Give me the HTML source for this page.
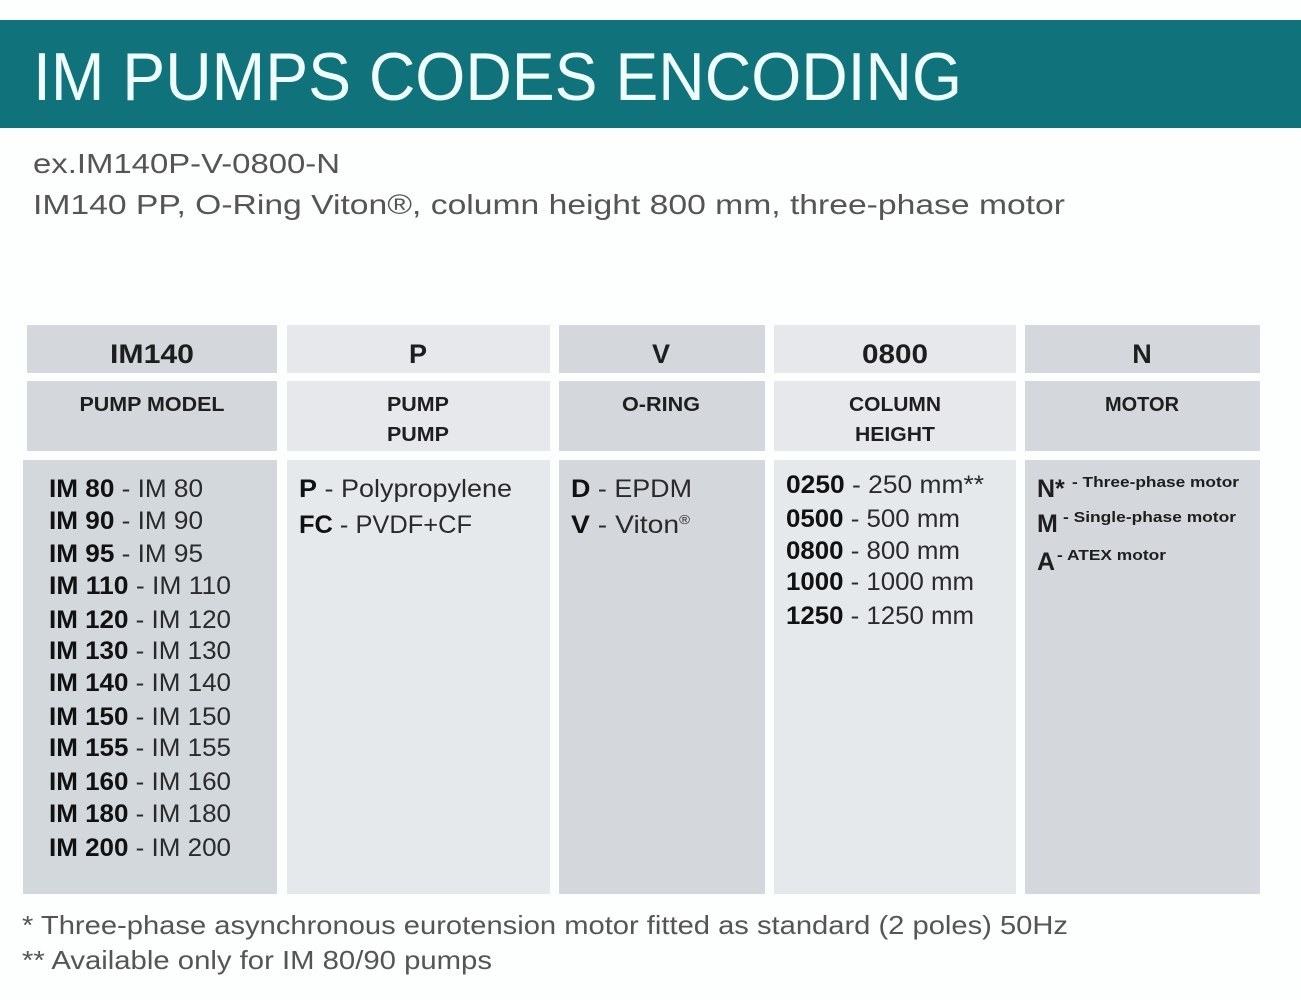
<!DOCTYPE html>
<html><head><meta charset="utf-8"><style>
html,body{margin:0;padding:0;background:#fff;}
svg{display:block;}
text{font-family:"Liberation Sans",sans-serif;}
</style></head><body>
<svg width="1301" height="1000" viewBox="0 0 1301 1000" xmlns="http://www.w3.org/2000/svg">
<rect width="1301" height="1000" fill="#fdfefe"/>
<rect x="0" y="20" width="1301" height="108" fill="#10737b"/>
<text x="33" y="100" font-size="68" fill="#eefcfc" textLength="929" lengthAdjust="spacingAndGlyphs">IM PUMPS CODES ENCODING</text>
<g fill="#555" font-size="28">
<text x="33" y="173" textLength="307" lengthAdjust="spacingAndGlyphs">ex.IM140P-V-0800-N</text>
<text x="33" y="214" textLength="1032" lengthAdjust="spacingAndGlyphs">IM140 PP, O-Ring Viton®, column height 800 mm, three-phase motor</text>
</g>
<!-- header row -->
<rect x="27" y="325" width="250" height="48" fill="#d4d7db"/>
<rect x="287" y="325" width="263" height="48" fill="#e6e8eb"/>
<rect x="559" y="325" width="206" height="48" fill="#d4d7db"/>
<rect x="774" y="325" width="242" height="48" fill="#e6e8eb"/>
<rect x="1025" y="325" width="235" height="48" fill="#d4d7db"/>
<rect x="27" y="381" width="250" height="70" fill="#d4d7db"/>
<rect x="287" y="381" width="263" height="70" fill="#e6e8eb"/>
<rect x="559" y="381" width="206" height="70" fill="#d4d7db"/>
<rect x="774" y="381" width="242" height="70" fill="#e6e8eb"/>
<rect x="1025" y="381" width="235" height="70" fill="#d4d7db"/>
<rect x="23" y="460" width="254" height="434" fill="#d3d8dd"/>
<rect x="287" y="460" width="263" height="434" fill="#e6e9ec"/>
<rect x="559" y="460" width="206" height="434" fill="#d4d8dc"/>
<rect x="774" y="460" width="242" height="434" fill="#e6e9ec"/>
<rect x="1025" y="460" width="235" height="434" fill="#d4d8dc"/>
<g fill="#1e1e1e" font-weight="bold" text-anchor="middle">
<text x="152" y="363" font-size="27" textLength="84" lengthAdjust="spacingAndGlyphs">IM140</text>
<text x="418" y="363" font-size="27">P</text>
<text x="661" y="363" font-size="27">V</text>
<text x="895" y="363" font-size="27" textLength="66" lengthAdjust="spacingAndGlyphs">0800</text>
<text x="1142" y="363" font-size="27">N</text>
<g font-size="20">
<text x="152" y="411" textLength="145" lengthAdjust="spacingAndGlyphs">PUMP MODEL</text>
<text x="418" y="411" textLength="62" lengthAdjust="spacingAndGlyphs">PUMP</text>
<text x="418" y="441" textLength="62" lengthAdjust="spacingAndGlyphs">PUMP</text>
<text x="661" y="411" textLength="78" lengthAdjust="spacingAndGlyphs">O-RING</text>
<text x="895" y="411" textLength="92" lengthAdjust="spacingAndGlyphs">COLUMN</text>
<text x="895" y="441" textLength="80" lengthAdjust="spacingAndGlyphs">HEIGHT</text>
<text x="1142" y="411" textLength="74" lengthAdjust="spacingAndGlyphs">MOTOR</text>
</g>
</g>
<g font-size="25" fill="#2a2a2a">
<text x="49" y="497" textLength="154" lengthAdjust="spacingAndGlyphs"><tspan font-weight="bold" fill="#111">IM 80</tspan> - IM 80</text>
<text x="49" y="529" textLength="154" lengthAdjust="spacingAndGlyphs"><tspan font-weight="bold" fill="#111">IM 90</tspan> - IM 90</text>
<text x="49" y="562" textLength="154" lengthAdjust="spacingAndGlyphs"><tspan font-weight="bold" fill="#111">IM 95</tspan> - IM 95</text>
<text x="49" y="594" textLength="182" lengthAdjust="spacingAndGlyphs"><tspan font-weight="bold" fill="#111">IM 110</tspan> - IM 110</text>
<text x="49" y="628" textLength="182" lengthAdjust="spacingAndGlyphs"><tspan font-weight="bold" fill="#111">IM 120</tspan> - IM 120</text>
<text x="49" y="659" textLength="182" lengthAdjust="spacingAndGlyphs"><tspan font-weight="bold" fill="#111">IM 130</tspan> - IM 130</text>
<text x="49" y="691" textLength="182" lengthAdjust="spacingAndGlyphs"><tspan font-weight="bold" fill="#111">IM 140</tspan> - IM 140</text>
<text x="49" y="725" textLength="182" lengthAdjust="spacingAndGlyphs"><tspan font-weight="bold" fill="#111">IM 150</tspan> - IM 150</text>
<text x="49" y="756" textLength="182" lengthAdjust="spacingAndGlyphs"><tspan font-weight="bold" fill="#111">IM 155</tspan> - IM 155</text>
<text x="49" y="790" textLength="182" lengthAdjust="spacingAndGlyphs"><tspan font-weight="bold" fill="#111">IM 160</tspan> - IM 160</text>
<text x="49" y="822" textLength="182" lengthAdjust="spacingAndGlyphs"><tspan font-weight="bold" fill="#111">IM 180</tspan> - IM 180</text>
<text x="49" y="856" textLength="182" lengthAdjust="spacingAndGlyphs"><tspan font-weight="bold" fill="#111">IM 200</tspan> - IM 200</text>

<text x="299" y="497" textLength="213" lengthAdjust="spacingAndGlyphs"><tspan font-weight="bold" fill="#111">P</tspan> - Polypropylene</text>
<text x="299" y="533" textLength="173" lengthAdjust="spacingAndGlyphs"><tspan font-weight="bold" fill="#111">FC</tspan> - PVDF+CF</text>

<text x="571" y="497" textLength="121" lengthAdjust="spacingAndGlyphs"><tspan font-weight="bold" fill="#111">D</tspan> - EPDM</text>
<text x="571" y="533" textLength="119" lengthAdjust="spacingAndGlyphs"><tspan font-weight="bold" fill="#111">V</tspan> - Viton<tspan font-size="13" dy="-9">®</tspan></text>

<text x="786" y="493" textLength="198" lengthAdjust="spacingAndGlyphs"><tspan font-weight="bold" fill="#111">0250</tspan> - 250 mm**</text>
<text x="786" y="527" textLength="174" lengthAdjust="spacingAndGlyphs"><tspan font-weight="bold" fill="#111">0500</tspan> - 500 mm</text>
<text x="786" y="559" textLength="174" lengthAdjust="spacingAndGlyphs"><tspan font-weight="bold" fill="#111">0800</tspan> - 800 mm</text>
<text x="786" y="590" textLength="188" lengthAdjust="spacingAndGlyphs"><tspan font-weight="bold" fill="#111">1000</tspan> - 1000 mm</text>
<text x="786" y="624" textLength="188" lengthAdjust="spacingAndGlyphs"><tspan font-weight="bold" fill="#111">1250</tspan> - 1250 mm</text>
</g>
<g fill="#1e1e1e" font-weight="bold">
<text x="1037" y="497" font-size="25">N*</text>
<text x="1072" y="487" font-size="15" textLength="167" lengthAdjust="spacingAndGlyphs">- Three-phase motor</text>
<text x="1037" y="532" font-size="25">M</text>
<text x="1063" y="522" font-size="15" textLength="173" lengthAdjust="spacingAndGlyphs">- Single-phase motor</text>
<text x="1037" y="570" font-size="25">A</text>
<text x="1057" y="560" font-size="15" textLength="109" lengthAdjust="spacingAndGlyphs">- ATEX motor</text>
</g>
<g fill="#555" font-size="26">
<text x="22" y="934" textLength="1046" lengthAdjust="spacingAndGlyphs">* Three-phase asynchronous eurotension motor fitted as standard (2 poles) 50Hz</text>
<text x="22" y="969" textLength="470" lengthAdjust="spacingAndGlyphs">** Available only for IM 80/90 pumps</text>
</g>
</svg>
</body></html>
